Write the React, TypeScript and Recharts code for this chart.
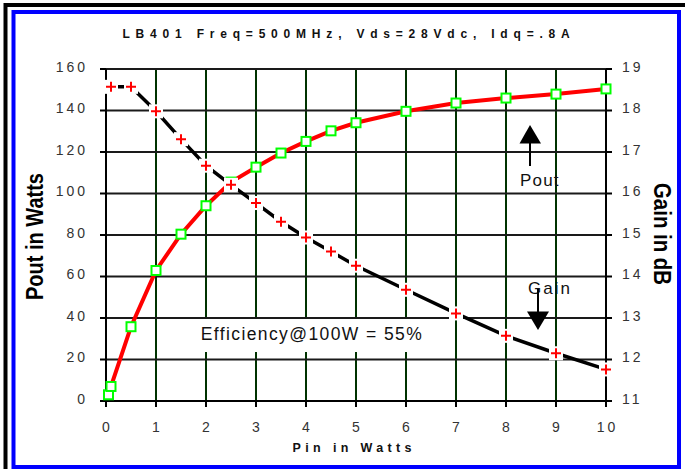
import React from 'react';
import { LineChart, Line, XAxis, YAxis, CartesianGrid } from 'recharts';

const pinPout = [0.05, 0.1, 0.5, 1, 1.5, 2, 2.5, 3, 3.5, 4, 4.5, 5, 6, 7, 8, 9, 10];
const poutWatts = [3, 7, 35.8, 62.9, 80.4, 94.1, 105.5, 112.7, 119.5, 125.1, 130.2, 134.1, 139.6, 143.6, 146, 147.9, 150.4];
const pinGain = [0.1, 0.5, 1, 1.5, 2, 2.5, 3, 3.5, 4, 4.5, 5, 6, 7, 8, 9, 10];
const gainDb = [18.57, 18.57, 17.98, 17.31, 16.67, 16.21, 15.77, 15.32, 14.94, 14.6, 14.26, 13.68, 13.11, 12.57, 12.15, 11.76];
const xTicks = [0, 1, 2, 3, 4, 5, 6, 7, 8, 9, 10];
const poutTicks = [0, 20, 40, 60, 80, 100, 120, 140, 160];
const gainTicks = [11, 12, 13, 14, 15, 16, 17, 18, 19];

const titleText = 'LB401 Freq=500MHz, Vds=28Vdc, Idq=.8A';
const xTitle = 'Pin in Watts';
const leftTitle = 'Pout in Watts';
const rightTitle = 'Gain in dB';
const effText = 'Efficiency@100W = 55%';

const poutData = pinPout.map((pin, i) => ({ pin, pout: poutWatts[i] }));
const gainData = pinGain.map((pin, i) => ({ pin, gain: gainDb[i] }));

const FONT = '"Liberation Sans", Arial, Helvetica, sans-serif';

const SquareDot = (props: any) => {
  const { cx, cy, index } = props;
  if (cx == null || cy == null) return <g key={`s${index}`} />;
  return (
    <rect key={`s${index}`} x={cx - 4.5} y={cy - 4.5} width={9} height={9} fill="#ffffff" stroke="#00ff00" strokeWidth={2} />
  );
};

const CrossDot = (props: any) => {
  const { cx, cy, index } = props;
  if (cx == null || cy == null) return <g key={`c${index}`} />;
  return (
    <g key={`c${index}`}>
      <rect x={cx - 7} y={cy - 7} width={14} height={14} fill="#ffffff" stroke="none" />
      <path d={`M${cx - 5},${cy}H${cx + 5}M${cx},${cy - 5}V${cy + 5}`} stroke="#ff0000" strokeWidth={2} fill="none" />
    </g>
  );
};

const XTick = (props: any) => {
  const { x, y, payload } = props;
  return (
    <text x={x + 1.5} y={y} dy="0.71em" textAnchor="middle" fontFamily={FONT} fontSize={14} letterSpacing={3} fill="#333">
      {payload.value}
    </text>
  );
};

const LeftTick = (props: any) => {
  const { x, y, payload } = props;
  return (
    <text x={x} y={y - 2} dy="0.355em" textAnchor="end" fontFamily={FONT} fontSize={14} letterSpacing={3} fill="#333">
      {payload.value}
    </text>
  );
};

const RightTick = (props: any) => {
  const { x, y, payload } = props;
  return (
    <text x={x} y={y - 2} dy="0.355em" textAnchor="start" fontFamily={FONT} fontSize={14} letterSpacing={3} fill="#333">
      {payload.value}
    </text>
  );
};

export default function App() {
  return (
    <div style={{ position: 'absolute', left: 0, top: 0, width: 685, height: 469, overflow: 'hidden', background: '#fff' }}>
      <LineChart width={685} height={469} margin={{ top: 69, right: 0, bottom: 0, left: 0 }}>
        <CartesianGrid yAxisId="left" horizontal={false} vertical={true} stroke="#003300" strokeWidth={2} strokeOpacity={1} />
        <CartesianGrid yAxisId="left" horizontal={true} vertical={false} stroke="#1a1a1a" strokeWidth={2} strokeOpacity={1} />
        <XAxis
          dataKey="pin"
          type="number"
          domain={[0, 10]}
          ticks={xTicks}
          interval={0}
          height={68}
          tickSize={6}
          tickMargin={15}
          axisLine={{ stroke: '#000', strokeWidth: 2 }}
          tickLine={{ stroke: '#000', strokeWidth: 2 }}
          tick={XTick}
        />
        <YAxis
          yAxisId="left"
          type="number"
          domain={[0, 160]}
          ticks={poutTicks}
          interval={0}
          width={106}
          tickSize={6}
          tickMargin={12}
          axisLine={{ stroke: '#000', strokeWidth: 2 }}
          tickLine={{ stroke: '#000', strokeWidth: 2 }}
          tick={LeftTick}
        />
        <YAxis
          yAxisId="right"
          orientation="right"
          type="number"
          domain={[11, 19]}
          ticks={gainTicks}
          interval={0}
          width={79}
          tickSize={6}
          tickMargin={10}
          axisLine={{ stroke: '#000', strokeWidth: 2 }}
          tickLine={{ stroke: '#000', strokeWidth: 2 }}
          tick={RightTick}
        />
        <Line
          data={poutData}
          yAxisId="left"
          dataKey="pout"
          type="linear"
          stroke="#ff0000"
          strokeWidth={4}
          dot={false}
          activeDot={false}
          isAnimationActive={false}
        />
        <Line
          data={poutData}
          yAxisId="left"
          dataKey="pout"
          type="linear"
          stroke="none"
          strokeWidth={0}
          dot={SquareDot}
          activeDot={false}
          isAnimationActive={false}
        />
        <Line
          data={gainData}
          yAxisId="right"
          dataKey="gain"
          type="linear"
          stroke="#000000"
          strokeWidth={3.5}
          dot={false}
          activeDot={false}
          isAnimationActive={false}
        />
        <Line
          data={gainData}
          yAxisId="right"
          dataKey="gain"
          type="linear"
          stroke="none"
          strokeWidth={0}
          dot={CrossDot}
          activeDot={false}
          isAnimationActive={false}
        />
      </LineChart>
      <svg width={685} height={469} style={{ position: 'absolute', left: 0, top: 0, pointerEvents: 'none' }}>
        <rect x={5.5} y={5} width={720} height={520} fill="none" stroke="#000" strokeWidth={4} />
        <rect x={13.5} y={12} width={665.5} height={455} fill="none" stroke="#0000ff" strokeWidth={4} />
        <text x={349} y={38.3} textAnchor="middle" fontFamily={FONT} fontWeight="bold" fontSize={12} letterSpacing={5.8} fill="#111">
          {titleText}
        </text>
        <text x={354.2} y={451.7} textAnchor="middle" fontFamily={FONT} fontWeight="bold" fontSize={12.5} letterSpacing={4.35} fill="#111">
          {xTitle}
        </text>
        <text
          transform="translate(43.3,236.5) rotate(-90)"
          textAnchor="middle"
          fontFamily={FONT}
          fontWeight="bold"
          fontSize={24}
          textLength={127}
          lengthAdjust="spacingAndGlyphs"
          fill="#000"
        >
          {leftTitle}
        </text>
        <text
          transform="translate(653.5,234) rotate(90)"
          textAnchor="middle"
          fontFamily={FONT}
          fontWeight="bold"
          fontSize={24}
          textLength={102}
          lengthAdjust="spacingAndGlyphs"
          fill="#000"
        >
          {rightTitle}
        </text>
        <rect x={192} y={319} width={244} height={33} fill="#fff" />
        <text x={200.7} y={340} fontFamily={FONT} fontSize={17.5} letterSpacing={1.4} fill="#111">
          {effText}
        </text>
        <polygon points="530,125 519.5,143.5 541,143.5" fill="#000" />
        <line x1={530} y1={143} x2={530} y2={166} stroke="#000" strokeWidth={2} />
        <text x={520} y={186} fontFamily={FONT} fontSize={17} letterSpacing={1.2} fill="#111">
          Pout
        </text>
        <text x={528} y={294} fontFamily={FONT} fontSize={17} letterSpacing={2} fill="#111">
          Gain
        </text>
        <line x1={538} y1={289} x2={538} y2={312} stroke="#000" strokeWidth={2} />
        <polygon points="527,311.5 549,311.5 538,330" fill="#000" />
      </svg>
    </div>
  );
}
